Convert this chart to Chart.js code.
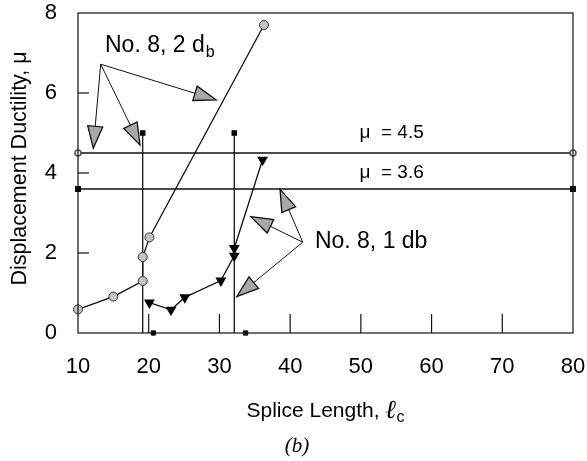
<!DOCTYPE html>
<html><head><meta charset="utf-8">
<script src="https://cdn.jsdelivr.net/npm/chart.js@4/dist/chart.umd.min.js"></script>
<style>html,body{margin:0;padding:0;background:#fff}#wrap{width:587px;height:461px;position:relative}</style>
</head><body><div id="wrap"><canvas id="c"></canvas></div>
<script>
// ---- data ----
const xTickValues=[10,20,30,40,50,60,70,80];
const yTickValues=[0,2,4,6,8];
const twoDbX=[10,15,19.15,19.15,20.1,36.3];
const twoDbY=[0.59,0.91,1.3,1.9,2.39,7.7];
const oneDbX=[20.1,23.15,25.1,30.2,32.1,32.1,36.1];
const oneDbY=[0.76,0.58,0.89,1.31,1.93,2.12,4.33];
const limitX=[10,80];
const mu45Y=[4.5,4.5];
const mu36Y=[3.6,3.6];
const dropX=[19.15,32.1];
const dropTopY=[5,5];
const baseSqX=[20.65,33.7];
const baseSqY=[0,0];
const innerXTicks=[20,30,40,50,60,70];
const innerYTicks=[2,4,6];
// annotation anchors (data units)
const arrow2dbFrom=[13.21,6.72];
const arrow2dbTipX=[12.16,18.77,29.52];
const arrow2dbTipY=[4.62,4.70,5.83];
const arrow1dbFrom=[41.78,2.27];
const arrow1dbTipX=[38.57,34.43,32.45];
const arrow1dbTipY=[3.59,2.91,0.91];
const label2dbAt=[13.82,7.03];
const label1dbAt=[43.5,2.12];
const muLabelX=49.8;

const pts=(xs,ys)=>xs.map((x,i)=>({x,y:ys[i]}));
const FONT='"Liberation Sans", Arial, sans-serif';

const decor={
  id:'decor',
  afterDatasetsDraw(chart){
    const {ctx,chartArea:a,scales:{x,y}}=chart;
    ctx.save();
    // frame
    ctx.strokeStyle='#111';ctx.lineWidth=1.2;
    ctx.strokeRect(a.left,a.top,a.right-a.left,a.bottom-a.top);
    // inner ticks
    ctx.lineWidth=1.2;
    innerXTicks.forEach(v=>{const px=x.getPixelForValue(v);ctx.beginPath();ctx.moveTo(px,a.bottom);ctx.lineTo(px,a.bottom-19);ctx.stroke();});
    innerYTicks.forEach(v=>{const py=y.getPixelForValue(v);ctx.beginPath();ctx.moveTo(a.left,py);ctx.lineTo(a.left+11,py);ctx.stroke();});
    // arrows
    const arrow=(fx,fy,tx,ty)=>{
      const x0=x.getPixelForValue(fx),y0=y.getPixelForValue(fy),x1=x.getPixelForValue(tx),y1=y.getPixelForValue(ty);
      const ang=Math.atan2(y1-y0,x1-x0),L=22,W=7.5;
      const bx=x1-L*Math.cos(ang),by=y1-L*Math.sin(ang);
      ctx.strokeStyle='#111';ctx.lineWidth=1;
      ctx.beginPath();ctx.moveTo(x0,y0);ctx.lineTo(bx,by);ctx.stroke();
      ctx.beginPath();ctx.moveTo(x1,y1);
      ctx.lineTo(bx+W*Math.sin(ang),by-W*Math.cos(ang));
      ctx.lineTo(bx-W*Math.sin(ang),by+W*Math.cos(ang));
      ctx.closePath();ctx.fillStyle='#a8a8a8';ctx.fill();ctx.lineWidth=1.3;ctx.stroke();
    };
    arrow2dbTipX.forEach((t,i)=>arrow(arrow2dbFrom[0],arrow2dbFrom[1],t,arrow2dbTipY[i]));
    arrow1dbTipX.forEach((t,i)=>arrow(arrow1dbFrom[0],arrow1dbFrom[1],t,arrow1dbTipY[i]));
    // labels
    ctx.fillStyle='#000';ctx.textBaseline='alphabetic';ctx.textAlign='left';
    let lx=x.getPixelForValue(label2dbAt[0]),ly=y.getPixelForValue(label2dbAt[1]);
    ctx.font='23px '+FONT;ctx.fillText('No. 8, 2 d',lx,ly);
    let w=ctx.measureText('No. 8, 2 d').width;
    ctx.font='16px '+FONT;ctx.fillText('b',lx+w+1,ly+5);
    lx=x.getPixelForValue(label1dbAt[0]);ly=y.getPixelForValue(label1dbAt[1]);
    ctx.font='23px '+FONT;ctx.fillText('No. 8, 1 db',lx,ly);
    ctx.font='19px '+FONT;ctx.textBaseline='middle';
    ctx.fillText('\u03bc  = 4.5',x.getPixelForValue(muLabelX),y.getPixelForValue(5.0));
    ctx.fillText('\u03bc  = 3.6',x.getPixelForValue(muLabelX),y.getPixelForValue(4.0));
    // axis titles
    ctx.save();ctx.translate(25.5,168.5);ctx.rotate(-Math.PI/2);
    ctx.textAlign='center';ctx.textBaseline='alphabetic';ctx.font='21.5px '+FONT;ctx.fillText('Displacement Ductility, \u03bc',0,0);ctx.restore();
    ctx.textBaseline='alphabetic';ctx.textAlign='left';
    ctx.font='21px '+FONT;
    const t1='Splice Length, ';const w1=ctx.measureText(t1).width;
    ctx.font='italic bold 26px "DejaVu Serif", serif';const w2=ctx.measureText('\u2113').width;
    ctx.font='16px '+FONT;const w3=ctx.measureText('c').width;
    const cx=(a.left+a.right)/2;let sx=cx-(w1+w2+w3)/2;const by=417;
    ctx.font='21px '+FONT;ctx.fillText(t1,sx,by);
    ctx.font='italic bold 26px "DejaVu Serif", serif';ctx.fillText('\u2113',sx+w1,by+1);
    ctx.font='16px '+FONT;ctx.fillText('c',sx+w1+w2,by+5);
    ctx.font='italic 21px "Liberation Serif", serif';ctx.textAlign='center';
    ctx.fillText('(b)',297,452);
    ctx.restore();
  }
};

new Chart(document.getElementById('c'),{
  type:'scatter',
  data:{datasets:[
    {data:pts(twoDbX,twoDbY),showLine:true,borderColor:'#111',borderWidth:1.3,pointStyle:'circle',pointRadius:4.5,pointBackgroundColor:'#c4c4c4',pointBorderColor:'#333',pointBorderWidth:1,clip:false},
    {data:pts(oneDbX,oneDbY),showLine:true,borderColor:'#111',borderWidth:1.3,pointStyle:'triangle',rotation:180,pointRadius:5,pointBackgroundColor:'#000',pointBorderColor:'#000',clip:false},
    {data:pts(limitX,mu45Y),showLine:true,borderColor:'#111',borderWidth:1.6,pointStyle:'circle',pointRadius:3,pointBackgroundColor:'#fff',pointBorderColor:'#555',clip:false},
    {data:pts(limitX,mu36Y),showLine:true,borderColor:'#111',borderWidth:1.6,pointStyle:'rect',pointRadius:3,pointBackgroundColor:'#000',pointBorderColor:'#000',clip:false},
    {data:[{x:dropX[0],y:dropTopY[0]},{x:dropX[0],y:0}],showLine:true,borderColor:'#111',borderWidth:1.3,pointStyle:'rect',pointRadius:[3,0],pointBackgroundColor:'#000',pointBorderColor:'#000',clip:false},
    {data:[{x:dropX[1],y:dropTopY[1]},{x:dropX[1],y:0}],showLine:true,borderColor:'#111',borderWidth:1.3,pointStyle:'rect',pointRadius:[3,0],pointBackgroundColor:'#000',pointBorderColor:'#000',clip:false},
    {data:pts(baseSqX,baseSqY),showLine:false,pointStyle:'rect',pointRadius:3,pointBackgroundColor:'#000',pointBorderColor:'#000',clip:false}
  ]},
  options:{
    responsive:true,maintainAspectRatio:false,animation:false,
    layout:{padding:{left:0,top:13,right:14,bottom:0}},
    plugins:{legend:{display:false},tooltip:{enabled:false}},
    scales:{
      x:{type:'linear',min:10,max:80,afterFit:s=>{s.height=128;s.paddingLeft=0;s.paddingRight=0;},
        afterBuildTicks:s=>{s.ticks=xTickValues.map(v=>({value:v}));},
        grid:{display:false,drawTicks:false},border:{display:false},
        ticks:{color:'#000',font:{family:FONT,size:22},padding:21,maxRotation:0}},
      y:{type:'linear',min:0,max:8,afterFit:s=>{s.width=78;s.paddingTop=0;s.paddingBottom=0;},
        afterBuildTicks:s=>{s.ticks=yTickValues.map(v=>({value:v}));},
        grid:{display:false,drawTicks:false},border:{display:false},
        ticks:{color:'#000',font:{family:FONT,size:22},padding:21}}
    }
  },
  plugins:[decor]
});
</script></body></html>
